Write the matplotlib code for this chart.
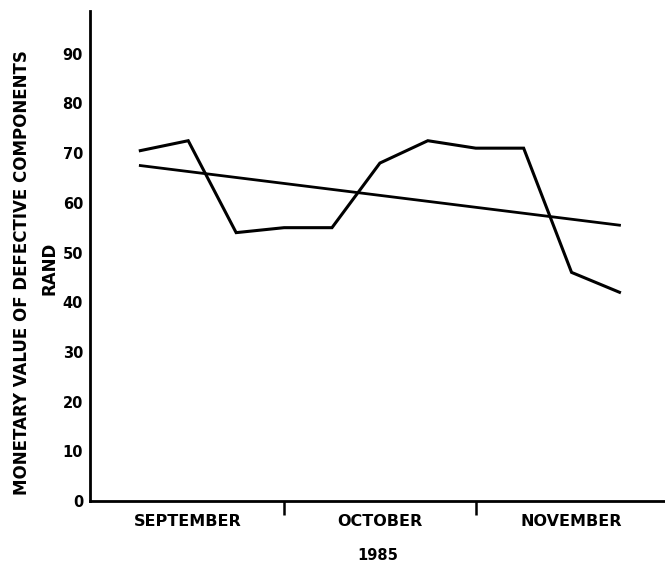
import matplotlib
matplotlib.use("Agg")
import matplotlib.pyplot as plt

# Data
week_pos = [1, 2, 3, 4, 5, 6, 7, 8, 9, 10, 11]
defect_value = [70.5, 72.5, 54, 55, 55, 68, 72.5, 71, 71, 46, 42]
trend_x = [1, 11]
trend_y = [67.5, 55.5]
month_labels = ["SEPTEMBER", "OCTOBER", "NOVEMBER"]
month_centers = [2, 6, 10]
month_bounds = [4, 8]
y_ticks = [0, 10, 20, 30, 40, 50, 60, 70, 80, 90]

plt.rcParams['font.family'] = ['DejaVu Sans']
plt.rcParams['font.weight'] = 'bold'

fig = plt.figure(figsize=(6.65, 5.70), dpi=100)
ax = fig.add_axes([90/665, 69/570, 575/665, 490/570])

ax.plot(week_pos, defect_value, color='black', lw=2.2, solid_joinstyle='miter')
ax.plot(trend_x, trend_y, color='black', lw=2.0)

ax.set_xlim(-0.05, 11.95)
ax.set_ylim(0, 98.6)

for s in ['top', 'right']:
    ax.spines[s].set_visible(False)
for s in ['left', 'bottom']:
    ax.spines[s].set_linewidth(2.0)

ax.set_yticks(y_ticks)
ax.set_yticklabels([str(v) for v in y_ticks], fontsize=10.5, fontweight='bold')
ax.tick_params(axis='y', length=0, pad=5)

ax.set_xticks(month_bounds)
ax.set_xticklabels([])
ax.tick_params(axis='x', which='major', direction='out', length=10, width=1.8)
ax.set_xticks(month_centers, minor=True)
ax.set_xticklabels(month_labels, minor=True, fontsize=11.5, fontweight='bold')
ax.tick_params(axis='x', which='minor', length=0, pad=9)

ax.set_xlabel("1985", fontsize=10.5, fontweight='bold', labelpad=14)

fig.text(22/665, 1 - 273/570, "MONETARY VALUE OF DEFECTIVE COMPONENTS",
         rotation=90, ha='center', va='center', fontsize=12, fontweight='bold')
fig.text(50/665, 1 - 268/570, "RAND",
         rotation=90, ha='center', va='center', fontsize=12, fontweight='bold')

fig.savefig("out.png", dpi=100)
